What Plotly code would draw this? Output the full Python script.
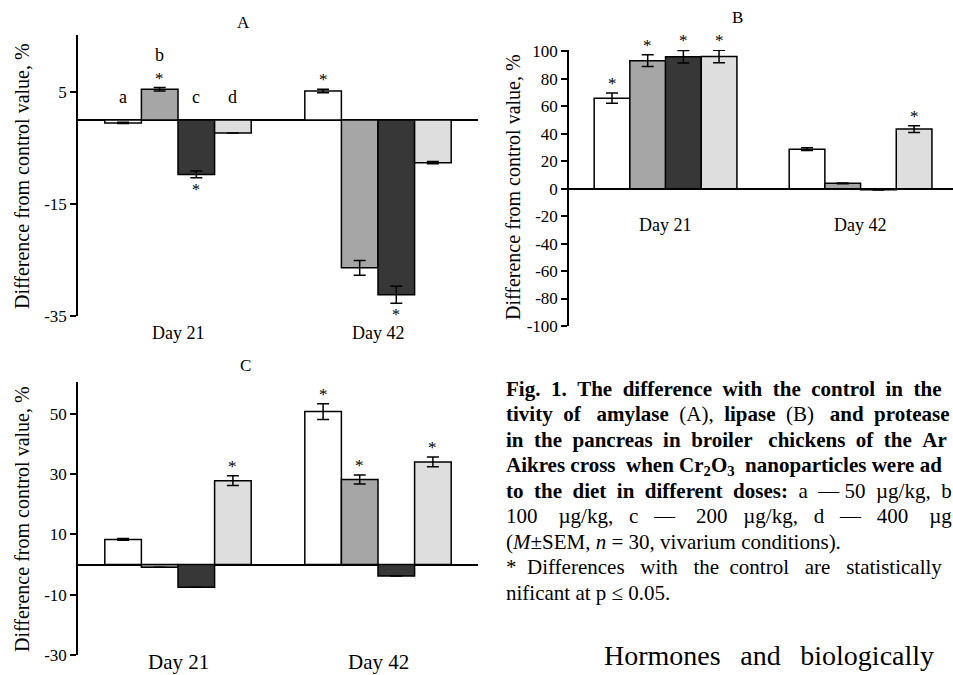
import plotly.graph_objects as go

# ---------------- data ----------------
days = ["Day 21", "Day 42"]
doses = ["a", "b", "c", "d"]
dose_colors = ["#ffffff", "#a6a6a6", "#373737", "#dedede"]

# Panel A: amylase (difference from control, %)
amylase_day21 = [-0.5, 5.5, -9.7, -2.3]
amylase_day42 = [5.2, -26.4, -31.2, -7.6]
amylase_err_day21 = [0.1, 0.3, 0.6, 0.0]
amylase_err_day42 = [0.3, 1.3, 1.5, 0.2]
amylase_sig_day21 = [False, True, True, False]
amylase_sig_day42 = [True, False, True, False]

# Panel B: lipase
lipase_day21 = [65.9, 93.2, 96.1, 96.3]
lipase_day42 = [28.8, 3.9, -0.7, 43.4]
lipase_err_day21 = [3.7, 4.3, 4.6, 4.5]
lipase_err_day42 = [1.0, 0.3, 0.3, 2.4]
lipase_sig_day21 = [True, True, True, True]
lipase_sig_day42 = [False, False, False, True]

# Panel C: protease
protease_day21 = [8.3, -0.9, -7.5, 27.8]
protease_day42 = [50.7, 28.2, -3.8, 34.0]
protease_err_day21 = [0.3, 0.0, 0.0, 1.6]
protease_err_day42 = [2.6, 1.5, 0.0, 1.6]
protease_sig_day21 = [False, False, False, True]
protease_sig_day42 = [True, True, False, True]

tick_a = [5, -15, -35]
tick_b = [100, 80, 60, 40, 20, 0, -20, -40, -60, -80, -100]
tick_c = [50, 30, 10, -10, -30]

y_title = "Difference from control value, %"

# ---------------- layout helpers ----------------
W, H = 953, 675
SERIF = "Liberation Serif, Times New Roman, serif"
NB = "\u00a0"


def px(p):
    return p / W


def py(p):
    return 1 - p / H


def spaced(words, gaps, extra=""):
    s = words[0]
    for w, g in zip(words[1:], gaps):
        s += NB * g + extra + w
    return s


BAR_W = 0.183

fig = go.Figure()
annotations = []

panels = [
    dict(xa="x", ya="y", d21=amylase_day21, d42=amylase_day42,
         e21=amylase_err_day21, e42=amylase_err_day42,
         s21=amylase_sig_day21, s42=amylase_sig_day42),
    dict(xa="x2", ya="y2", d21=lipase_day21, d42=lipase_day42,
         e21=lipase_err_day21, e42=lipase_err_day42,
         s21=lipase_sig_day21, s42=lipase_sig_day42),
    dict(xa="x3", ya="y3", d21=protease_day21, d42=protease_day42,
         e21=protease_err_day21, e42=protease_err_day42,
         s21=protease_sig_day21, s42=protease_sig_day42),
]

for p in panels:
    for i, dose in enumerate(doses):
        vals = [p["d21"][i], p["d42"][i]]
        errs = [p["e21"][i], p["e42"][i]]
        sigs = [p["s21"][i], p["s42"][i]]
        off = -2 * BAR_W + i * BAR_W
        fig.add_trace(go.Bar(
            x=[0, 1], y=vals, width=BAR_W, offset=off,
            name=dose,
            marker=dict(color=dose_colors[i], line=dict(color="black", width=1.5)),
            error_y=dict(type="data", array=errs, visible=True, color="black",
                         thickness=1.5, width=6),
            xaxis=p["xa"], yaxis=p["ya"], showlegend=False,
        ))
        for k in range(2):
            if sigs[k]:
                v = vals[k]
                e = errs[k]
                if v >= 0:
                    annotations.append(dict(
                        x=k + off + BAR_W / 2, y=v + e, xref=p["xa"], yref=p["ya"],
                        text="*", showarrow=False, yanchor="bottom", yshift=-2,
                        font=dict(family=SERIF, size=17, color="black")))
                else:
                    annotations.append(dict(
                        x=k + off + BAR_W / 2, y=v - e, xref=p["xa"], yref=p["ya"],
                        text="*", showarrow=False, yanchor="top", yshift=-1,
                        font=dict(family=SERIF, size=16, color="black")))

# dose letters in panel A (Day 21 group)
for i, dose in enumerate(doses):
    yv = 11.6 if dose == "b" else 4.1
    annotations.append(dict(
        x=0 - 2 * BAR_W + i * BAR_W + BAR_W / 2, y=yv, xref="x", yref="y",
        text=dose, showarrow=False, yanchor="middle",
        font=dict(family=SERIF, size=18, color="black")))

axis_common = dict(showgrid=False, zeroline=False, showline=False,
                   showticklabels=False, ticks="", automargin=False)
y_common = dict(showgrid=False, showline=True, linecolor="black", linewidth=1.5,
                ticks="outside", ticklen=6, tickwidth=1.5, tickcolor="black",
                zeroline=True, zerolinecolor="black", zerolinewidth=1.5,
                automargin=False,
                tickfont=dict(family=SERIF, size=17, color="black"))

fig.update_layout(
    template="none",
    xaxis=dict(domain=[px(78), px(478)], range=[-0.5, 1.5], anchor="y", **axis_common),
    yaxis=dict(domain=[py(316), py(35)], range=[-35, 15.2], anchor="x",
               tickvals=tick_a, ticktext=[str(t) for t in tick_a], **y_common),
    xaxis2=dict(domain=[px(569), 1.0], range=[-0.495, 1.474], anchor="y2", **axis_common),
    yaxis2=dict(domain=[py(326), py(50)], range=[-100, 101], anchor="x2",
                tickvals=tick_b, ticktext=[str(t) for t in tick_b], **y_common),
    xaxis3=dict(domain=[px(78), px(478)], range=[-0.5, 1.5], anchor="y3", **axis_common),
    yaxis3=dict(domain=[py(655), py(382)], range=[-30, 60.5], anchor="x3",
                tickvals=tick_c, ticktext=[str(t) for t in tick_c], **y_common),
)

# category labels
for k, d in enumerate(days):
    annotations.append(dict(x=k, y=py(333), xref="x", yref="paper", text=d,
                            showarrow=False, yanchor="middle",
                            font=dict(family=SERIF, size=18, color="black")))
    annotations.append(dict(x=k, y=py(225), xref="x2", yref="paper", text=d,
                            showarrow=False, yanchor="middle",
                            font=dict(family=SERIF, size=18, color="black")))
    annotations.append(dict(x=k, y=py(662), xref="x3", yref="paper", text=d,
                            showarrow=False, yanchor="middle",
                            font=dict(family=SERIF, size=21, color="black")))

# panel letters
for letter, xx, yy in [("A", 244, 22), ("B", 737, 18), ("C", 245, 365)]:
    annotations.append(dict(x=px(xx), y=py(yy), xref="paper", yref="paper",
                            text=letter, showarrow=False, xanchor="center",
                            yanchor="middle",
                            font=dict(family=SERIF, size=17, color="black")))

# y-axis titles
for xx, yy in [(22, 176), (513, 187), (22, 519)]:
    annotations.append(dict(x=px(xx), y=py(yy), xref="paper", yref="paper",
                            text=y_title, textangle=-90, showarrow=False,
                            xanchor="center", yanchor="middle",
                            font=dict(family=SERIF, size=20, color="black")))

# caption (justified lines approximated with non-breaking spaces)
caption_lines = [
    spaced(["<b>Fig.", "1.", "The", "difference", "with", "the", "control",
            "in", "the</b>"], [2, 2, 2, 2, 2, 2, 2, 2]),
    spaced(["<b>tivity", "of", "amylase</b>", "(A),", "<b>lipase</b>", "(B)",
            "<b>and", "protease</b>"], [2, 3, 2, 2, 2, 3, 2]),
    spaced(["<b>in", "the", "pancreas", "in", "broiler", "chickens", "of",
            "the", "Ar</b>"], [2, 2, 2, 2, 3, 2, 2, 2]),
    spaced(["<b>Aikres", "cross", "when", "Cr<sub>2</sub>O<sub>3</sub>",
            "nanoparticles", "were", "ad</b>"], [1, 2, 1, 2, 1, 1]),
    spaced(["<b>to", "the", "diet", "in", "different", "doses:</b>", "a", "—",
            "50", "µg/kg,", "b"], [2, 2, 2, 2, 2, 2, 2, 1, 2, 2]),
    spaced(["100", "µg/kg,", "c", "—", "200", "µg/kg,", "d", "—", "400", "µg"],
           [4, 3, 3, 4, 3, 3, 3, 3, 4]),
    "(<i>M</i>±SEM, <i>n</i> = 30, vivarium conditions).",
    spaced(["*", "Differences", "with", "the", "control", "are",
            "statistically"], [2, 3, 3, 2, 3, 3]),
    "nificant at p ≤ 0.05.",
]
line_y = [389, 414, 440, 466, 491, 516, 542, 567, 593]
for t, yy in zip(caption_lines, line_y):
    annotations.append(dict(x=px(504), y=py(yy), xref="paper", yref="paper",
                            text=t, showarrow=False, xanchor="left", yanchor="middle",
                            align="left",
                            font=dict(family=SERIF, size=21, color="black")))

annotations.append(dict(x=px(602), y=py(655), xref="paper", yref="paper",
                        text=spaced(["Hormones", "and", "biologically"], [2, 2],
                                    extra="\u2009"),
                        showarrow=False, xanchor="left", yanchor="middle",
                        font=dict(family=SERIF, size=28, color="black")))

fig.update_layout(
    width=W, height=H, margin=dict(l=0, r=0, t=0, b=0, autoexpand=False),
    paper_bgcolor="white", plot_bgcolor="white", showlegend=False,
    barmode="overlay", annotations=annotations,
)

fig.write_html("out.html",
               config={"displayModeBar": False},
               post_script="document.body.style.margin='0';"
                           "document.body.style.overflow='hidden';")
